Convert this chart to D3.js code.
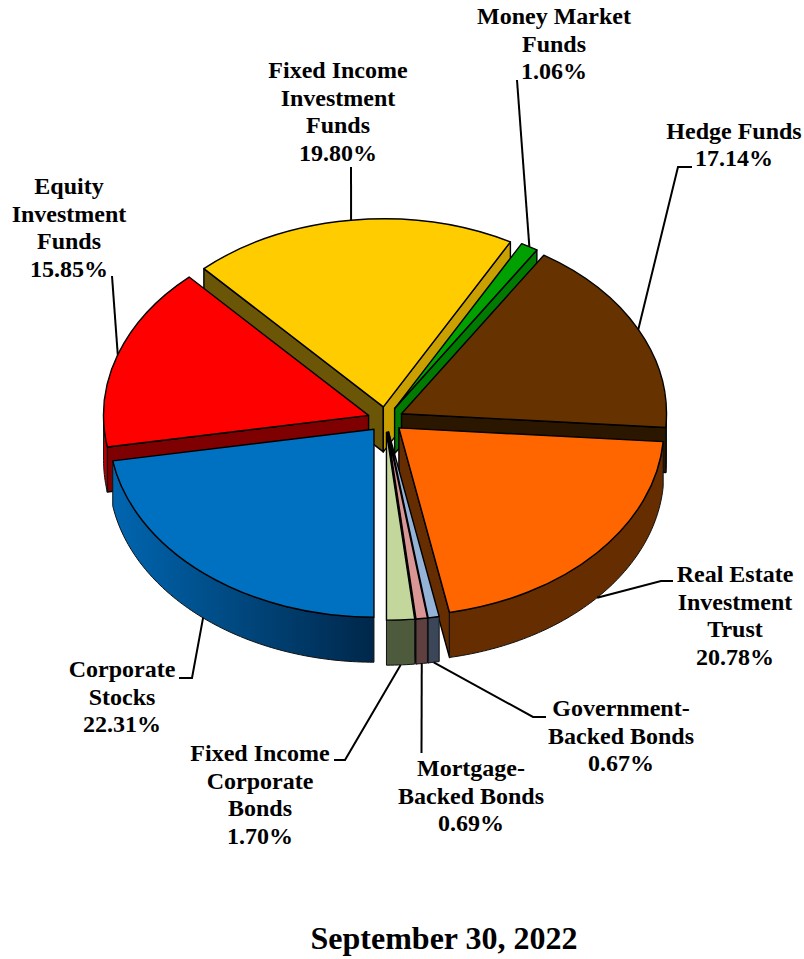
<!DOCTYPE html>
<html>
<head>
<meta charset="utf-8">
<script src="https://cdn.jsdelivr.net/npm/d3@7/dist/d3.min.js"></script>
<style>
  html, body { margin: 0; padding: 0; background: #fff; }
  text { font-family: "Liberation Serif", serif; font-weight: bold; fill: #000; }
</style>
</head>
<body>
<svg id="chart"></svg>
<script>
// Data, clockwise from the front of the pie
const names = [
  ["Corporate", "Stocks"],
  ["Equity", "Investment", "Funds"],
  ["Fixed Income", "Investment", "Funds"],
  ["Money Market", "Funds"],
  ["Hedge Funds"],
  ["Real Estate", "Investment", "Trust"],
  ["Government-", "Backed Bonds"],
  ["Mortgage-", "Backed Bonds"],
  ["Fixed Income", "Corporate", "Bonds"]
];
const values = [22.31, 15.85, 19.8, 1.06, 17.14, 20.78, 0.67, 0.69, 1.7];
const chartTitle = "September 30, 2022";

// Colours: top face, outer wall (start, end), cut wall
const topColors = ["#0070c0", "#ff0000", "#ffcc00", "#00a000", "#663300", "#ff6600", "#95b3d7", "#d99694", "#c3d69b"];
const wallStart = ["#0066b0", "#cc0000", "#8a6e00", "#007000", "#2b1600", "#662d00", "#3b4759", "#5e4040", "#4d5a3c"];
const wallEnd = ["#00274a", "#a00000", "#8a6e00", "#007000", "#2b1600", "#662d00", "#3b4759", "#5e4040", "#4d5a3c"];
const cutLeft = ["#00396b", "#7f0000", "#6b5608", "#007a00", "#2b1600", "#662d00", "#000", "#000", "#000"];
const cutRight = ["#00396b", "#7f0000", "#c9a000", "#007a00", "#2b1600", "#662d00", "#000", "#000", "#000"];

// Layout
const width = 804, height = 959;
const cx = 385.5, cy = 419.5, rx = 265, ry = 188, depth = 45;
const explode = 0.0675;
// label centre, first baseline, leader points after the rim anchor
const labelLayout = [
  { x: 122, y: 677, leader: [[192, 678], [179, 678]] },
  { x: 69, y: 194, leader: [[112, 276]] },
  { x: 338, y: 78, leader: [[351, 167]] },
  { x: 554, y: 24, leader: [[517, 80]] },
  { x: 734, y: 138.5, leader: [[678, 167], [692, 167]] },
  { x: 735, y: 582, leader: [[661, 581], [673, 581]] },
  { x: 621, y: 716, leader: [[533, 717], [546, 717]] },
  { x: 471, y: 776, leader: [[421.5, 753]] },
  { x: 260, y: 761, leader: [[345, 760], [334, 760]] }
];
const lineStep = 27.6;

const svg = d3.select("#chart").attr("width", width).attr("height", height)
  .style("display", "block");
const defs = svg.append("defs");

// pie angles run clockwise from the top, so start at the bottom
const pie = d3.pie().sort(null).startAngle(Math.PI).endAngle(3 * Math.PI);
const arcs = pie(values);

const px = (a) => Math.sin(a) * rx;
const py = (a) => -Math.cos(a) * ry;

const slices = arcs.map((d, i) => {
  const mid = (d.startAngle + d.endAngle) / 2;
  return {
    i,
    start: d.startAngle,
    end: d.endAngle,
    mid,
    x: cx + px(mid) * explode,
    y: cy + py(mid) * explode
  };
});

const unitArc = d3.arc().innerRadius(0).outerRadius(100);
const line = d3.line();

// Painter's order, back of the pie first
const drawOrder = [2, 3, 4, 1, 5, 0, 6, 7, 8];

const g = svg.append("g");

drawOrder.forEach((k) => {
  const s = slices[k];
  const sg = g.append("g");

  const corner = (a, dy) => [s.x + px(a), s.y + py(a) + dy];
  const apex = (dy) => [s.x, s.y + dy];

  // cut faces, skipping the ones that look away from the viewer
  const cuts = [];
  if (Math.sin(s.start) < -1e-6) cuts.push([s.start, cutLeft[k]]);
  if (Math.sin(s.end) > 1e-6) cuts.push([s.end, cutRight[k]]);
  cuts.forEach(([a, fill]) => {
    sg.append("path")
      .attr("d", line([apex(0), corner(a, 0), corner(a, depth), apex(depth)]) + "Z")
      .attr("fill", fill)
      .attr("stroke", "#000")
      .attr("stroke-width", 1.4)
      .attr("stroke-linejoin", "round");
  });

  // outer wall, only the part that faces the viewer
  const turn = s.start >= 2 * Math.PI ? 2 * Math.PI : 0;
  const a0 = Math.max(s.start, Math.PI / 2 + turn);
  const a1 = Math.min(s.end, Math.PI * 1.5 + turn);
  if (a1 > a0) {
    const n = Math.max(2, Math.ceil((a1 - a0) * 60));
    const ang = d3.range(n + 1).map((j) => a0 + ((a1 - a0) * j) / n);
    const pts = ang.map((a) => corner(a, 0)).concat(ang.slice().reverse().map((a) => corner(a, depth)));
    const xs = d3.extent(pts, (p) => p[0]);
    const gid = "wall" + k;
    const grad = defs.append("linearGradient").attr("id", gid)
      .attr("gradientUnits", "userSpaceOnUse")
      .attr("x1", xs[0]).attr("x2", xs[1]).attr("y1", 0).attr("y2", 0);
    grad.append("stop").attr("offset", 0).attr("stop-color", wallStart[k]);
    grad.append("stop").attr("offset", 1).attr("stop-color", wallEnd[k]);
    sg.append("path")
      .attr("d", line(pts) + "Z")
      .attr("fill", `url(#${gid})`)
      .attr("stroke", "#111")
      .attr("stroke-width", 1)
      .attr("stroke-linejoin", "round");
  }

  // top face: a d3 arc squashed into the ellipse
  sg.append("path")
    .attr("d", unitArc({ startAngle: s.start, endAngle: s.end }))
    .attr("transform", `translate(${s.x},${s.y}) scale(${rx / 100},${ry / 100})`)
    .attr("fill", topColors[k])
    .attr("stroke", "#000")
    .attr("stroke-width", 1.4)
    .attr("stroke-linejoin", "round")
    .attr("vector-effect", "non-scaling-stroke");
});

// Leader lines start on the rim at the middle of each slice
slices.forEach((s, i) => {
  const front = Math.cos(s.mid) < 0;
  const start = [s.x + px(s.mid), s.y + py(s.mid) + (front ? depth : 0)];
  svg.append("path")
    .attr("d", line([start].concat(labelLayout[i].leader)))
    .attr("fill", "none")
    .attr("stroke", "#000")
    .attr("stroke-width", 2);
});

// Labels
names.forEach((lines, i) => {
  const lay = labelLayout[i];
  const t = svg.append("text")
    .attr("text-anchor", "middle")
    .attr("font-size", 24);
  lines.concat(values[i].toFixed(2) + "%").forEach((txt, j) => {
    t.append("tspan")
      .attr("x", lay.x)
      .attr("y", lay.y + j * lineStep)
      .text(txt);
  });
});

svg.append("text")
  .attr("x", 444)
  .attr("y", 949)
  .attr("text-anchor", "middle")
  .attr("font-size", 32)
  .text(chartTitle);
</script>
</body>
</html>
